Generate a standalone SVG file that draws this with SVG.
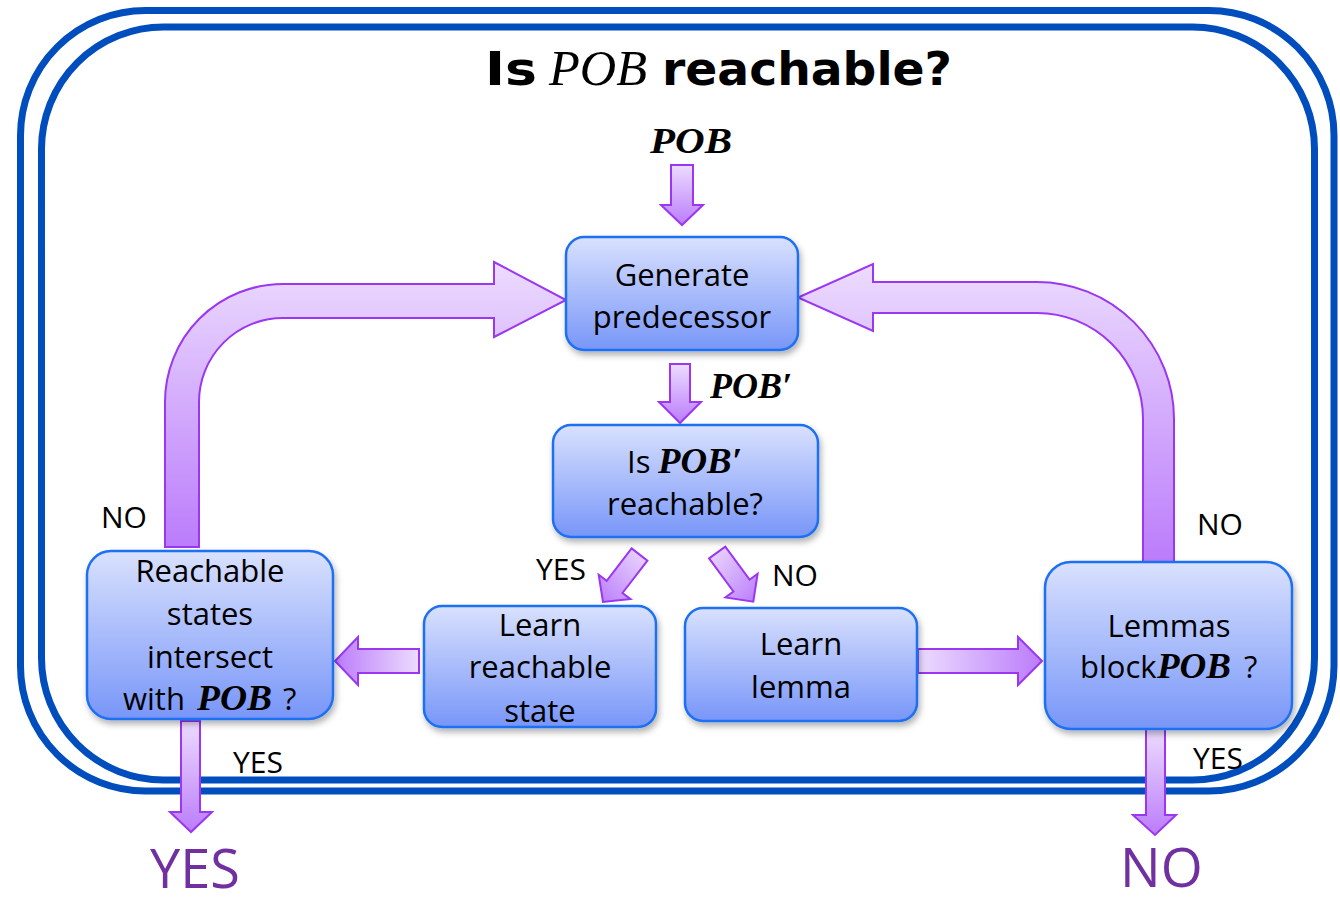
<svg xmlns="http://www.w3.org/2000/svg" width="1340" height="904" viewBox="0 0 1340 904">
<style>
.frame{fill:none;stroke:#004ebd;stroke-width:7}
.node{stroke:#1f6ff2;stroke-width:2.5;fill:url(#nodeGrad);filter:url(#shadow)}
.arrow{stroke:#9b36f2;stroke-width:2;stroke-linejoin:miter}
.lbl{font-family:"Open Sans","Liberation Sans",sans-serif;font-size:31px;fill:#000}
.small{font-family:"Open Sans","Liberation Sans",sans-serif;font-size:30px;fill:#000}
.big{font-family:"Open Sans","Liberation Sans",sans-serif;font-size:54px;fill:#7030a0}
.math{font-family:"Liberation Serif","DejaVu Serif",serif;font-style:italic;font-weight:bold;font-size:35px;fill:#000}
.title{font-family:"DejaVu Sans","Liberation Sans",sans-serif;font-weight:bold;font-size:46px;fill:#000}
.tmath{font-family:"Liberation Serif","DejaVu Serif",serif;font-style:italic;font-size:50px;fill:#000}
</style>
<defs>
<linearGradient id="nodeGrad" x1="0" y1="0" x2="0" y2="1">
<stop offset="0" stop-color="#d9e1fe"/>
<stop offset="1" stop-color="#7896f8"/>
</linearGradient>
<linearGradient id="gDown" x1="0" y1="0" x2="0" y2="1">
<stop offset="0" stop-color="#ecdcfe"/>
<stop offset="1" stop-color="#bb7cfb"/>
</linearGradient>
<linearGradient id="gLeft" x1="1" y1="0" x2="0" y2="0">
<stop offset="0" stop-color="#ecdcfe"/>
<stop offset="1" stop-color="#bb7cfb"/>
</linearGradient>
<linearGradient id="gRight" x1="0" y1="0" x2="1" y2="0">
<stop offset="0" stop-color="#ecdcfe"/>
<stop offset="1" stop-color="#bb7cfb"/>
</linearGradient>
<linearGradient id="gDL" x1="1" y1="0" x2="0" y2="1">
<stop offset="0" stop-color="#ecdcfe"/>
<stop offset="1" stop-color="#bb7cfb"/>
</linearGradient>
<linearGradient id="gDR" x1="0" y1="0" x2="1" y2="1">
<stop offset="0" stop-color="#ecdcfe"/>
<stop offset="1" stop-color="#bb7cfb"/>
</linearGradient>
<filter id="shadow" x="-10%" y="-10%" width="125%" height="130%">
<feDropShadow dx="2" dy="4" stdDeviation="3" flood-color="#000" flood-opacity="0.3"/>
</filter>
</defs>

<g id="frame">
<rect class="frame" x="20.5" y="10.5" width="1313.5" height="780.5" rx="125" ry="125"/>
<rect class="frame" x="41.5" y="27" width="1273" height="753" rx="122" ry="122"/>
</g>

<g id="title">
<text class="title" x="485" y="85" textLength="52" lengthAdjust="spacingAndGlyphs">Is</text>
<text class="tmath" x="549" y="85" textLength="98" lengthAdjust="spacingAndGlyphs">POB</text>
<text class="title" x="662" y="85" textLength="290" lengthAdjust="spacingAndGlyphs">reachable?</text>
</g>

<g id="connectors">
<polygon class="arrow" fill="url(#gDown)" points="671,165 693,165 693,205 703,205 682,225 661,205 671,205"/>
<polygon class="arrow" fill="url(#gDown)" points="670,364 690,364 690,402 701,402 680,423 659,402 670,402"/>
<polygon class="arrow" fill="url(#gDL)" points="631.6,548.4 647.4,560.6 622.5,593 630.5,599.1 603,602 598.7,574.7 606.7,580.8"/>
<polygon class="arrow" fill="url(#gDR)" points="709.1,558.4 725.3,546.6 749.6,579.7 757.6,573.8 753.3,601.7 725.4,597.4 733.4,591.5"/>
<polygon class="arrow" fill="url(#gLeft)" points="419,649 419,673 358,673 358,685 335,661 358,637 358,649"/>
<polygon class="arrow" fill="url(#gRight)" points="918,649 1018,649 1018,637 1042,661 1018,685 1018,673 918,673"/>
<polygon class="arrow" fill="url(#gDown)" points="181,721 200,721 200,812 212,812 191,832 170,812 181,812"/>
<polygon class="arrow" fill="url(#gDown)" points="1146,729 1165,729 1165,815 1176,815 1155,835 1133,815 1146,815"/>
<path class="arrow" fill="url(#gDown)" d="M165 547 L165 402 A118 118 0 0 1 283 284 L494 284 L494 262 L566 300 L494 337 L494 318 L283 318 A84 84 0 0 0 199 402 L199 547 Z"/>
<path class="arrow" fill="url(#gDown)" d="M1143 562 L1143 419 A106 106 0 0 0 1037 313 L873 313 L873 331 L798 297.5 L873 264 L873 282 L1037 282 A137 137 0 0 1 1174 419 L1174 562 Z"/>
</g>

<g id="node-generate">
<rect class="node" x="566" y="237" width="232" height="113" rx="18"/>
<text class="lbl" x="682" y="286" text-anchor="middle">Generate</text>
<text class="lbl" x="682" y="328" text-anchor="middle">predecessor</text>
</g>

<g id="node-is-pob-prime">
<rect class="node" x="553" y="425" width="265" height="112" rx="18"/>
<text class="lbl" x="627" y="473">Is</text>
<text class="math" x="658" y="473" textLength="84" lengthAdjust="spacingAndGlyphs">POB′</text>
<text class="lbl" x="685" y="515" text-anchor="middle">reachable?</text>
</g>

<g id="node-learn-reachable">
<rect class="node" x="424" y="606" width="232" height="121" rx="18"/>
<text class="lbl" x="540" y="636" text-anchor="middle">Learn</text>
<text class="lbl" x="540" y="678" text-anchor="middle">reachable</text>
<text class="lbl" x="540" y="722" text-anchor="middle">state</text>
</g>

<g id="node-learn-lemma">
<rect class="node" x="685" y="608" width="232" height="113" rx="18"/>
<text class="lbl" x="801" y="655" text-anchor="middle">Learn</text>
<text class="lbl" x="801" y="698" text-anchor="middle">lemma</text>
</g>

<g id="node-reachable-states">
<rect class="node" x="87" y="551" width="246" height="168" rx="24"/>
<text class="lbl" x="210" y="582" text-anchor="middle">Reachable</text>
<text class="lbl" x="210" y="625" text-anchor="middle">states</text>
<text class="lbl" x="210" y="668" text-anchor="middle">intersect</text>
<text class="lbl" x="123" y="710">with</text>
<text class="math" x="197" y="710" textLength="75" lengthAdjust="spacingAndGlyphs">POB</text>
<text class="lbl" x="283" y="710">?</text>
</g>

<g id="node-lemmas-block">
<rect class="node" x="1045" y="562" width="247" height="167" rx="26"/>
<text class="lbl" x="1169" y="637" text-anchor="middle">Lemmas</text>
<text class="lbl" x="1080" y="678">block</text>
<text class="math" x="1157" y="678" textLength="74" lengthAdjust="spacingAndGlyphs">POB</text>
<text class="lbl" x="1244" y="678">?</text>
</g>

<g id="labels">
<text class="math" x="650" y="153" textLength="82" lengthAdjust="spacingAndGlyphs">POB</text>
<text class="math" x="710" y="398" textLength="82" lengthAdjust="spacingAndGlyphs">POB′</text>
<text class="small" x="536" y="580">YES</text>
<text class="small" x="772" y="586">NO</text>
<text class="small" x="101" y="528">NO</text>
<text class="small" x="1197" y="535">NO</text>
<text class="small" x="233" y="773">YES</text>
<text class="small" x="1193" y="769">YES</text>
<text class="big" x="150" y="888">YES</text>
<text class="big" x="1120" y="887">NO</text>
</g>
</svg>
